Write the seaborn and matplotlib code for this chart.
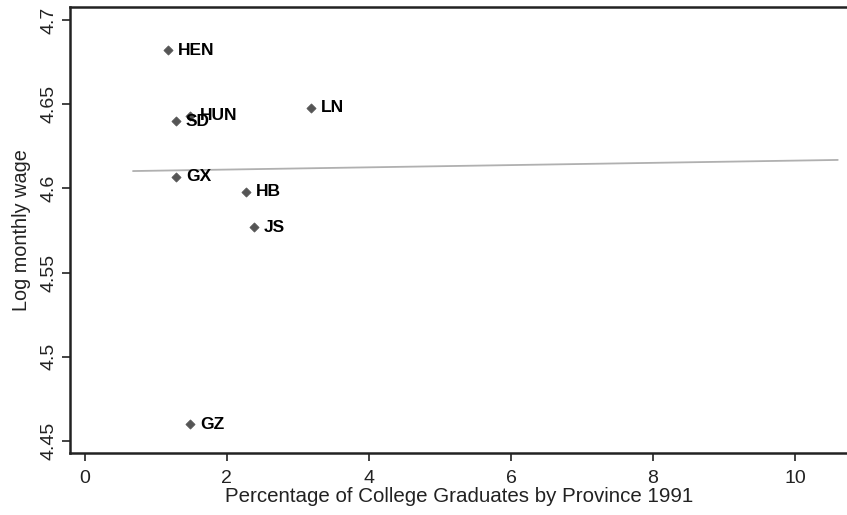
import matplotlib
matplotlib.use("Agg")
import matplotlib.pyplot as plt
import seaborn as sns
import pandas as pd

# Data
provinces = ["HEN", "SD", "HUN", "GX", "HB", "JS", "LN", "GZ"]
college_pct = [1.17, 1.28, 1.48, 1.28, 2.27, 2.38, 3.18, 1.48]
log_wage = [4.682, 4.640, 4.643, 4.607, 4.598, 4.577, 4.648, 4.460]

fit_x = [0.68, 10.6]
fit_y = [4.6103, 4.6169]

x_ticks = [0, 2, 4, 6, 8, 10]
y_ticks = [4.45, 4.5, 4.55, 4.6, 4.65, 4.7]
y_tick_labels = ["4.45", "4.5", "4.55", "4.6", "4.65", "4.7"]

df = pd.DataFrame({"prov": provinces, "x": college_pct, "y": log_wage})
fit = pd.DataFrame({"x": fit_x, "y": fit_y})

sns.set_theme(style="white")
plt.rcParams["font.family"] = ["Liberation Sans", "DejaVu Sans"]

fig = plt.figure(figsize=(8.47, 5.15), dpi=100)
ax = fig.add_axes([0.0832, 0.1204, 0.9168, 0.866])

sns.lineplot(data=fit, x="x", y="y", ax=ax, color="#b0b0b0", linewidth=1.3)
sns.scatterplot(data=df, x="x", y="y", ax=ax, marker="D", s=22,
                color="#555555", edgecolor="#555555", linewidth=0.5, zorder=3)

for p, xv, yv in zip(df["prov"], df["x"], df["y"]):
    ax.annotate(p, (xv, yv), xytext=(7.5, 0), textcoords="offset points",
                ha="left", va="center", fontsize=12.5, fontweight="bold",
                color="black")

ax.set_xlim(-0.2, 10.73)
ax.set_ylim(4.4429, 4.7077)
ax.set_xticks(x_ticks)
ax.set_xticklabels([str(t) for t in x_ticks])
ax.set_yticks(y_ticks)
ax.set_yticklabels(y_tick_labels, rotation=90, va="center")

ax.set_xlabel("Percentage of College Graduates by Province 1991", fontsize=14.8,
              color="#222222", labelpad=0)
ax.set_ylabel("Log monthly wage", fontsize=14.3, color="#222222", labelpad=7)

ax.tick_params(axis="both", which="major", direction="out", length=6, width=1.2,
               colors="#222222", labelsize=14, bottom=True, left=True)
ax.tick_params(axis="x", pad=6)
ax.tick_params(axis="y", pad=3)

for side in ["left", "bottom", "top"]:
    ax.spines[side].set_visible(True)
    ax.spines[side].set_color("#222222")
    ax.spines[side].set_linewidth(1.8)
ax.spines["right"].set_visible(False)

fig.savefig("out.png", dpi=100)
